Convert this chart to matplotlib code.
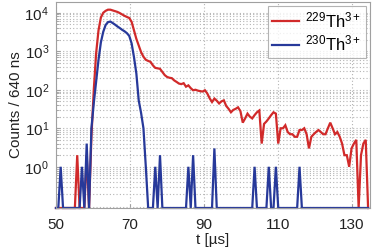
import numpy as np
import matplotlib
matplotlib.use("Agg")
import matplotlib.pyplot as plt
from matplotlib.ticker import LogLocator, FixedLocator, NullFormatter

plt.rcParams['font.family'] = ['Liberation Sans', 'DejaVu Sans']
plt.rcParams['mathtext.fontset'] = 'custom'
plt.rcParams['mathtext.rm'] = 'Liberation Sans'
plt.rcParams['mathtext.it'] = 'Liberation Sans'

# time bins (640 ns bins starting at 50 us)
t_start = 50.0
bin_width = 0.64

counts_229 = [
    0, 0, 0, 0, 0, 0, 0, 0, 0, 2,
    0, 0, 0, 2, 0, 6, 100, 900, 3500, 7500,
    10000, 11200, 12000, 12000, 11500, 11000, 10500, 9800, 9000, 8300,
    7800, 7300, 5800, 3500, 2100, 1400, 950, 720, 600, 560,
    530, 430, 370, 360, 350, 290, 240, 215, 205, 200,
    175, 160, 145, 140, 148, 120, 130, 110, 97, 100,
    95, 92, 90, 97, 80, 60, 48, 59, 52, 44,
    50, 53, 38, 32, 26, 30, 32, 35, 28, 14,
    18, 24, 20, 18, 22, 26, 29, 4, 13, 15,
    18, 22, 26, 24, 4, 10, 10, 12, 8, 7,
    7, 6, 6, 9, 9, 10, 7, 3, 6, 7,
    8, 9, 8, 7, 7, 10, 14, 10, 7, 8,
    6, 4, 2, 2, 1, 3, 4, 5, 0, 2,
    4, 5, 0,
]

counts_230 = [
    0, 0, 1, 0, 0, 0, 0, 0, 0, 0,
    0, 1, 0, 4, 0, 10, 45, 160, 600, 1700,
    3200, 4800, 5700, 5900, 5400, 4900, 4400, 4000, 3600, 3300,
    2950, 2500, 1600, 700, 265, 53, 25, 10, 1, 0,
    0, 0, 1, 0, 2, 0, 0, 0, 0, 0,
    0, 0, 0, 0, 0, 0, 1, 0, 2, 0,
    0, 0, 0, 0, 0, 0, 0, 3, 0, 0,
    0, 0, 0, 0, 0, 0, 0, 0, 0, 0,
    0, 0, 0, 0, 1, 0, 0, 0, 0, 0,
    1, 0, 0, 1, 0, 0, 0, 0, 0, 0,
    0, 0, 0, 1, 0, 0, 0, 0, 0, 0,
    0, 0, 0, 0, 0, 0, 0, 0, 0, 0,
    0, 0, 0, 0, 0, 0, 0, 0, 0, 0,
    0, 0, 0,
]

labels = [r'$^{229}$Th$^{3+}$', r'$^{230}$Th$^{3+}$']
colors = ['#d12a2a', '#27399a']
xticks = [50, 70, 90, 110, 130]
yticks = [1, 10, 100, 1000, 10000]

YMIN, YMAX = 0.085, 1.9e4

t = t_start + bin_width * np.arange(len(counts_229))

fig = plt.figure(figsize=(3.73, 2.5), dpi=100)
ax = fig.add_axes([0.150, 0.168, 0.842, 0.824])

for vals, lab, col in zip([counts_229, counts_230], labels, colors):
    v = np.array(vals, dtype=float)
    v = np.where(v > 0, v, YMIN)
    ax.plot(t, v, color=col, lw=1.6, label=lab, clip_on=False, solid_joinstyle='miter')

ax.set_yscale('log')
ax.set_xlim(50, 135)
ax.set_ylim(YMIN, YMAX)
ax.xaxis.set_major_locator(FixedLocator(xticks))
ax.yaxis.set_major_locator(FixedLocator(yticks))
ax.yaxis.set_minor_locator(LogLocator(base=10, subs=np.arange(2, 10)))
ax.yaxis.set_minor_formatter(NullFormatter())
ax.set_yticklabels([r'$10^{%d}$' % int(np.log10(v)) for v in yticks])

ax.grid(True, which='major', axis='both', ls=(0, (1, 2)), color='#b4b4b4', lw=0.8)
ax.grid(True, which='minor', axis='y', ls=(0, (1, 2)), color='#b4b4b4', lw=0.8)

for s in ax.spines.values():
    s.set_color('#a0a0a0')
    s.set_linewidth(0.8)
ax.tick_params(axis='both', which='both', direction='in', color='#a0a0a0', labelcolor='#222222')
ax.tick_params(axis='x', which='major', labelsize=11, length=3, pad=7)
ax.tick_params(axis='y', which='major', labelsize=11, length=3, pad=5)
ax.tick_params(axis='both', which='minor', length=2)

ax.set_xlabel('t [µs]', fontsize=11, color='#222222', labelpad=1)
ax.set_ylabel('Counts / 640 ns', fontsize=11, color='#222222', labelpad=1)

leg = ax.legend(loc='upper right', fontsize=12, frameon=True, fancybox=False,
                edgecolor='#a0a0a0', handlelength=1.6, handletextpad=0.4,
                borderpad=0.25, labelspacing=0.2, borderaxespad=0.25)
leg.get_frame().set_linewidth(0.8)

fig.savefig('out.png', dpi=100)
